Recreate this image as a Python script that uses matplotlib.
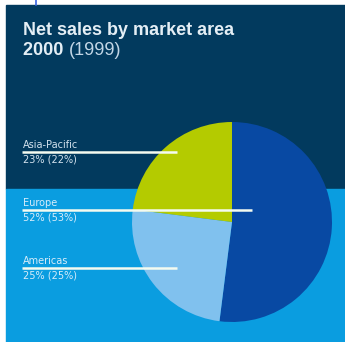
import matplotlib
matplotlib.use("Agg")
import matplotlib.pyplot as plt
from matplotlib.patches import Rectangle

# Market areas, drawn clockwise from 12 o'clock
areas = ["Europe", "Americas", "Asia-Pacific"]
share_2000 = [52, 25, 23]
share_1999 = [53, 25, 22]
colors = ["#0849a3", "#80c1ee", "#b4cb00"]

title_line1 = "Net sales by market area"
title_year = "2000"
title_prev = "(1999)"

W, H = 345, 342
fig = plt.figure(figsize=(W / 100, H / 100), dpi=100)
fig.patch.set_facecolor("white")
ax = fig.add_axes([0, 0, 1, 1])


def py(y):
    # top-down pixel row to data y
    return H - y


# panel: dark upper band, bright lower band
ax.add_patch(Rectangle((6, py(189)), W - 6, 189 - 5, color="#023a5e", zorder=0))
ax.add_patch(Rectangle((6, py(H)), W - 6, H - 189, color="#0a9de0", zorder=0))
ax.plot([36, 36], [py(0), py(5)], color="#3a64e0", lw=1.2, zorder=1)

ax.pie(share_2000, colors=colors, startangle=90, counterclock=False,
       center=(232, py(222)), radius=100, frame=True,
       wedgeprops=dict(linewidth=0))

ax.set_xlim(0, W)
ax.set_ylim(0, H)
ax.set_aspect("auto")
ax.axis("off")

# leader lines and labels
label_rows = {"Asia-Pacific": 152, "Europe": 210, "Americas": 268}
line_end = {"Asia-Pacific": 177, "Europe": 252, "Americas": 177}
for name, v0, v1 in zip(areas, share_2000, share_1999):
    y = label_rows[name]
    ax.plot([22, line_end[name]], [py(y), py(y)], color="#f4fbf0", lw=1.8,
            solid_capstyle="butt", zorder=5)
    tc = "#d3e2ee" if name == "Asia-Pacific" else "#d6ecfa"
    ax.text(23, py(y - 2.5), name, color=tc, fontsize=7, ha="left", va="bottom",
            family="DejaVu Sans", zorder=6)
    ax.text(23, py(y + 3), f"{v0}% ({v1}%)", color=tc, fontsize=7, ha="left",
            va="top", family="DejaVu Sans", zorder=6)

ax.text(23, py(35), title_line1, color="#e4eef5", fontsize=13, fontweight="bold",
        ha="left", va="baseline", family="Liberation Sans")
t = ax.text(23, py(55), title_year + " ", color="#e4eef5", fontsize=13,
            fontweight="bold", ha="left", va="baseline", family="Liberation Sans")
fig.canvas.draw()
bb = t.get_window_extent()
ax.text(bb.x1, py(55), title_prev, color="#c2d6e6", fontsize=13,
        ha="left", va="baseline", family="Liberation Sans")

fig.savefig("out.png", dpi=100, facecolor="white")
